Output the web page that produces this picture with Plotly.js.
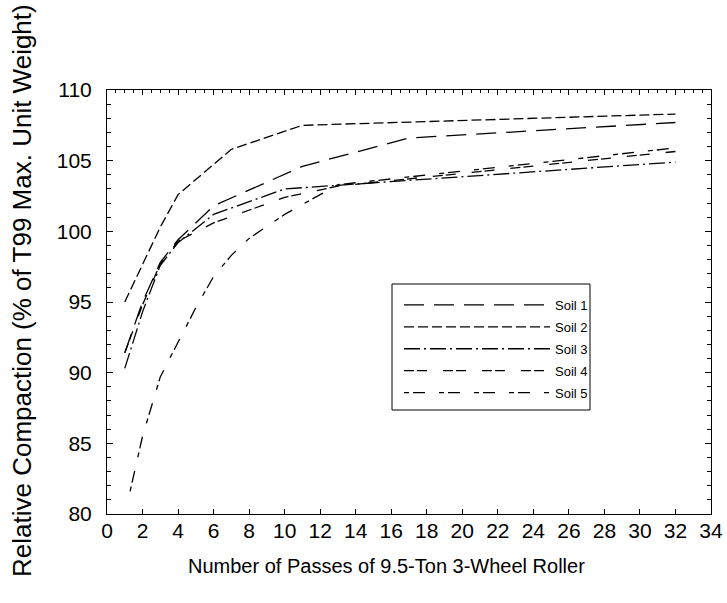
<!DOCTYPE html>
<html>
<head>
<meta charset="utf-8">
<script src="https://cdn.plot.ly/plotly-3.0.1.min.js"></script>
<style>html,body{margin:0;padding:0;background:#fff;}#chart{width:727px;height:603px;}</style>
</head>
<body>
<div id="chart"></div>
<script>
// Data
var soilNames = ["Soil 1", "Soil 2", "Soil 3", "Soil 4", "Soil 5"];
var soil1X = [1, 2, 3, 4, 6, 11, 17, 32];
var soil1Y = [91.4, 95.0, 97.8, 99.4, 101.8, 104.6, 106.6, 107.7];
var soil2X = [1, 2, 3, 4, 7, 11, 32];
var soil2Y = [95.0, 97.7, 100.3, 102.6, 105.8, 107.5, 108.3];
var soil3X = [1, 2, 3, 4, 6, 10, 32];
var soil3Y = [90.3, 94.3, 97.6, 99.2, 101.2, 103.0, 104.9];
var soil4X = [1, 2, 3, 4, 6, 10, 13, 32];
var soil4Y = [91.4, 94.8, 97.7, 99.3, 100.6, 102.4, 103.2, 105.65];
var soil5X = [1.3, 2, 3, 4, 5, 6, 7, 8, 10, 13, 32];
var soil5Y = [81.6, 85.5, 89.7, 92.2, 94.6, 96.8, 98.3, 99.5, 101.2, 103.3, 105.9];

var xTitle = "Number of Passes of 9.5-Ton 3-Wheel Roller";
var yTitle = "Relative Compaction (% of T99 Max. Unit Weight)";

var dashes = ["20px,10px", "10px,4px", "16px,4px,2px,4px", "10px,3px,10px,16px", "5px,4px,12px,14px"];
var xs = [soil1X, soil2X, soil3X, soil4X, soil5X];
var ys = [soil1Y, soil2Y, soil3Y, soil4Y, soil5Y];

var traces = [];
for (var i = 0; i < 5; i++) {
  traces.push({
    x: xs[i], y: ys[i], type: "scatter", mode: "lines", name: soilNames[i],
    legendgroup: "g" + i,
    line: {color: "#000", width: 1.3, dash: dashes[i]}
  });
}
// empty trace to instantiate the top axis
traces.push({x: [], y: [], xaxis: "x2", yaxis: "y", showlegend: false, hoverinfo: "skip"});

var fontFam = "Liberation Sans, Arial, sans-serif";
var L = 107, T = 90, W = 604, H = 424;
function px(xp) { return (xp - L) / W; }
function py(yp) { return (T + H - yp) / H; }

var layout = {
  width: 727, height: 603,
  margin: {l: L, r: 727 - L - W, t: T, b: 603 - T - H, pad: 0},
  paper_bgcolor: "#fff", plot_bgcolor: "#fff",
  font: {family: fontFam, color: "#000", size: 21},
  showlegend: true,
  legend: {
    x: px(399), y: py(290), xanchor: "left", yanchor: "top",
    bgcolor: "rgba(0,0,0,0)", borderwidth: 0,
    font: {family: fontFam, size: 13, color: "#000"},
    itemwidth: 146, tracegroupgap: 2, traceorder: "grouped"
  },
  shapes: [
    {type: "rect", xref: "paper", yref: "paper", x0: px(392), x1: px(590), y0: py(284), y1: py(410),
     line: {color: "#000", width: 1}, fillcolor: "#fff", layer: "below"}
  ],
  xaxis: {
    range: [0, 34], dtick: 2, tick0: 0, ticks: "inside", ticklen: 5, tickwidth: 1, tickcolor: "#000",
    showline: true, linecolor: "#000", linewidth: 1, mirror: true, showgrid: false, zeroline: false,
    tickfont: {family: fontFam, size: 21}, ticklabelstandoff: -2
  },
  xaxis2: {
    overlaying: "x", side: "top", anchor: "y", range: [0, 34], dtick: 2, tick0: 0,
    ticks: "inside", ticklen: 5, tickwidth: 1, tickcolor: "#000", showticklabels: false,
    showline: false, showgrid: false, zeroline: false,
    minor: {dtick: 0.5, ticks: "inside", ticklen: 3, tickwidth: 1, tickcolor: "#000", showgrid: false}
  },
  yaxis: {
    range: [80, 110], dtick: 5, tick0: 80, ticks: "inside", ticklen: 6, tickwidth: 1, tickcolor: "#000",
    showline: true, linecolor: "#000", linewidth: 1, mirror: "ticks", showgrid: false, zeroline: false,
    tickfont: {family: fontFam, size: 21}, ticklabelstandoff: 10,
    minor: {dtick: 1, ticks: "inside", ticklen: 4, tickwidth: 1, tickcolor: "#000", showgrid: false}
  },
  annotations: [
    {text: xTitle, xref: "paper", yref: "paper", x: px(386), y: py(566),
     xanchor: "center", yanchor: "middle", showarrow: false, font: {family: fontFam, size: 20, color: "#000"}},
    {text: yTitle, xref: "paper", yref: "paper", x: px(22), y: py(291),
     xanchor: "center", yanchor: "middle", showarrow: false, textangle: -90, font: {family: fontFam, size: 26, color: "#000"}}
  ]
};

Plotly.newPlot("chart", traces, layout, {displayModeBar: false, staticPlot: true});
</script>
</body>
</html>
